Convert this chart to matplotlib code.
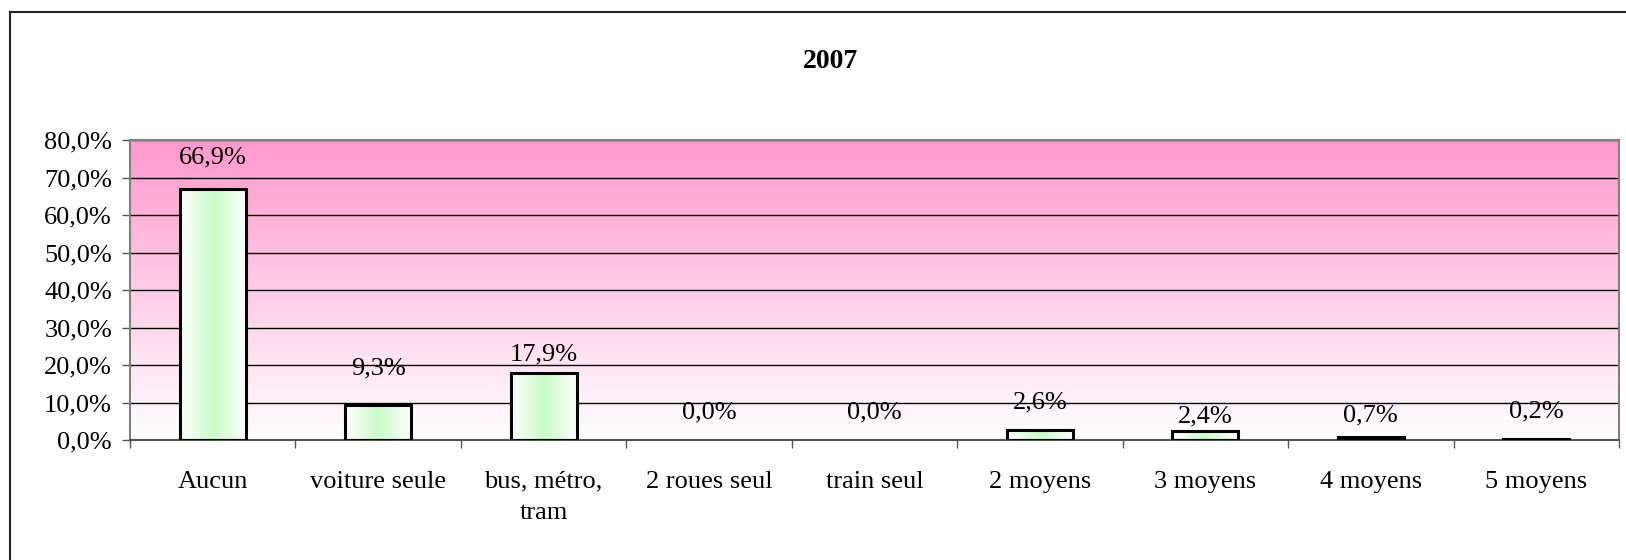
import numpy as np
import matplotlib.pyplot as plt
from matplotlib.lines import Line2D
from matplotlib.colors import LinearSegmentedColormap

categories = ['Aucun', 'voiture seule', 'bus, métro,\ntram', '2 roues seul',
              'train seul', '2 moyens', '3 moyens', '4 moyens', '5 moyens']
values = [66.9, 9.3, 17.9, 0.0, 0.0, 2.6, 2.4, 0.7, 0.2]
labels = ['66,9%', '9,3%', '17,9%', '0,0%', '0,0%', '2,6%', '2,4%', '0,7%', '0,2%']
yticks = [0, 10, 20, 30, 40, 50, 60, 70, 80]
title = '2007'

# vertical gap (px) between bar top and centre of its value label
label_gap = [32, 37, 18, 28, 28, 28, 15, 22, 28]

plt.rcParams['font.family'] = ['Liberation Serif', 'DejaVu Serif']
FS = 19

W, H = 1626, 560
fig = plt.figure(figsize=(W / 100, H / 100), dpi=100)
ax = fig.add_axes([130 / W, 120 / H, (1619 - 130) / W, 300 / H])

x = np.arange(len(categories))
ax.set_xlim(-0.5, len(categories) - 0.5)
ax.set_ylim(0, 80)

# pink-to-white vertical gradient behind the bars
bg = LinearSegmentedColormap.from_list('bg', ['#ffffff', '#ff99cc'])
ax.imshow(np.linspace(0, 1, 256).reshape(-1, 1), cmap=bg, aspect='auto',
          extent=[-0.5, len(categories) - 0.5, 0, 80], origin='lower', zorder=0)

for y in yticks[1:]:
    ax.axhline(y, color='black', lw=1.0, zorder=1)

# bars: white/green/white horizontal gradient, black outline
bar_cmap = LinearSegmentedColormap.from_list('barfill', ['#ffffff', '#c8fcc8', '#ffffff'])
grad = np.linspace(0, 1, 256).reshape(1, -1)
bars = ax.bar(x, values, width=0.4, facecolor='none', edgecolor='black',
              linewidth=2.2, zorder=3)
for b in bars:
    if b.get_height() <= 0:
        b.set_visible(False)
        continue
    img = ax.imshow(grad, cmap=bar_cmap, aspect='auto',
                    extent=[b.get_x(), b.get_x() + b.get_width(), 0, b.get_height()],
                    zorder=2)
    img.set_clip_path(b)

for xi, v, lab, gap in zip(x, values, labels, label_gap):
    ax.annotate(lab, (xi, v), xytext=(0, gap * 0.72), textcoords='offset points',
                ha='center', va='center', fontsize=FS, zorder=4)

ax.set_yticks(yticks)
ax.set_yticklabels([f'{t:.1f}%'.replace('.', ',') for t in yticks], fontsize=FS)
ax.tick_params(axis='y', direction='out', length=6, width=1, pad=7, color='#555555')

ax.set_xticks(x)
ax.set_xticklabels(categories, fontsize=FS, linespacing=1.55)
ax.set_xticks(np.arange(len(categories) + 1) - 0.5, minor=True)
ax.tick_params(axis='x', which='major', length=0, pad=22)
ax.tick_params(axis='x', which='minor', direction='out', length=6, width=1, color='#555555')

for s in ax.spines.values():
    s.set_color('#808080')
    s.set_linewidth(1.5)
ax.spines['bottom'].set_color('#555555')

fig.text(830 / W, 1 - 61 / H, title, ha='center', va='center',
         fontsize=20, fontweight='bold')

# outer chart frame (left and top edges visible)
fig.add_artist(Line2D([10 / W, 10 / W], [0, 1 - 12 / H], transform=fig.transFigure,
                      color='#222222', lw=1.5))
fig.add_artist(Line2D([10 / W, 1], [1 - 12 / H, 1 - 12 / H], transform=fig.transFigure,
                      color='#222222', lw=1.5))

fig.savefig('out.png', dpi=100)
